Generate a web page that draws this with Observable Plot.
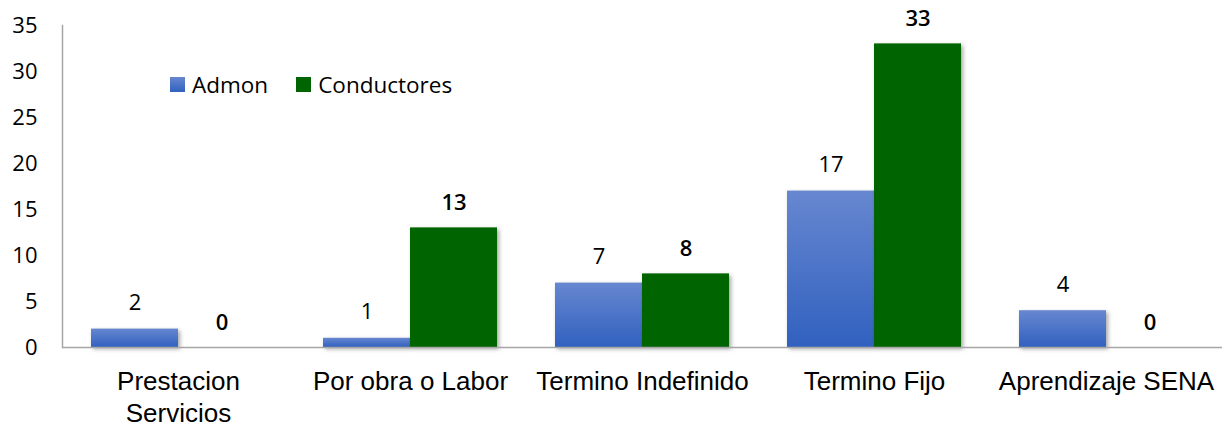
<!DOCTYPE html>
<html>
<head>
<meta charset="utf-8">
<script src="https://cdn.jsdelivr.net/npm/d3@7"></script>
<script src="https://cdn.jsdelivr.net/npm/@observablehq/plot@0.6"></script>
<style>
  body { margin: 0; background: #fff; }
  #wrap { position: relative; width: 1227px; height: 431px; }
  #legend { position: absolute; left: 170px; top: 69px; display: flex; align-items: center;
            font-family: "Open Sans", sans-serif; font-size: 22.5px; color: #000; }
  #legend .sw { display: inline-block; width: 15px; height: 15px; margin-right: 7px; }
  #legend .item { display: flex; align-items: center; margin-right: 28px; }
  .bars rect { filter: drop-shadow(2px 2px 2px rgba(0,0,0,0.35)); }
</style>
</head>
<body>
<div id="wrap"></div>
<script>
const categories = ["Prestacion Servicios", "Por obra o Labor", "Termino Indefinido", "Termino Fijo", "Aprendizaje SENA"];
const tickLabels = ["Prestacion\nServicios", "Por obra o Labor", "Termino Indefinido", "Termino Fijo", "Aprendizaje SENA"];
const series = ["Admon", "Conductores"];
const admon = [2, 1, 7, 17, 4];
const conductores = [0, 13, 8, 33, 0];
const yTicks = [0, 5, 10, 15, 20, 25, 30, 35];

const rows = [];
categories.forEach((c, i) => {
  rows.push({category: c, series: "Admon", value: admon[i]});
  rows.push({category: c, series: "Conductores", value: conductores[i]});
});
const admonRows = rows.filter(d => d.series === "Admon");
const condRows = rows.filter(d => d.series === "Conductores");

const chart = Plot.plot({
  width: 1227,
  height: 431,
  marginLeft: 62,
  marginRight: 5,
  marginTop: 25,
  marginBottom: 84,
  style: {fontFamily: "Open Sans, sans-serif", fontSize: "22px", color: "#000", background: "#fff"},
  fx: {domain: categories, padding: 0, label: null},
  x: {domain: series, paddingInner: 0, paddingOuter: 1/3, axis: null},
  y: {domain: [0, 35], axis: null},
  marks: [
    Plot.barY(admonRows, {fx: "category", x: "series", y: "value", fill: "url(#gradBlue)", className: "bars"}),
    Plot.barY(condRows, {fx: "category", x: "series", y: "value", fill: "#006400", className: "bars"}),
    Plot.ruleY([0], {stroke: "#a6a6a6", strokeWidth: 1.5}),
    Plot.frame({anchor: "left", stroke: "#a6a6a6", strokeWidth: 1.5, facetAnchor: "left"}),
    Plot.axisY({ticks: yTicks, tickSize: 0, tickPadding: 25, fontSize: 22, fontFamily: "Open Sans", facetAnchor: "left", label: null}),
    Plot.axisFx({anchor: "bottom", tickSize: 0, tickPadding: 19, fontSize: 26, fontFamily: "Liberation Sans, Arial, sans-serif",
                 lineHeight: 1.25, label: null, tickFormat: c => tickLabels[categories.indexOf(c)]}),
    Plot.text(admonRows, {fx: "category", x: "series", y: "value", text: d => String(d.value), dy: -26,
                          fontSize: 22, fontFamily: "Open Sans", fill: "#000"}),
    Plot.text(condRows, {fx: "category", x: "series", y: "value", text: d => String(d.value), dy: -25,
                         fontSize: 22, fontWeight: 600, fontFamily: "Open Sans", fill: "#000"})
  ]
});

const defs = d3.select(chart).insert("defs", ":first-child");
const g = defs.append("linearGradient").attr("id", "gradBlue").attr("x1", 0).attr("y1", 0).attr("x2", 0).attr("y2", 1);
g.append("stop").attr("offset", "0%").attr("stop-color", "#6787d0");
g.append("stop").attr("offset", "100%").attr("stop-color", "#3161bf");

const wrap = document.getElementById("wrap");
wrap.appendChild(chart);
const legend = document.createElement("div");
legend.id = "legend";
legend.innerHTML = `<span class="item"><span class="sw" style="background:linear-gradient(#6787d0,#3161bf)"></span>${series[0]}</span>` +
                   `<span class="item"><span class="sw" style="background:#006400"></span>${series[1]}</span>`;
wrap.appendChild(legend);
</script>
</body>
</html>
